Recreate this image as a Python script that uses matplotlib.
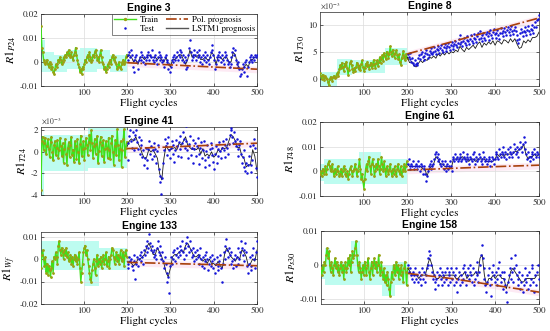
import matplotlib
matplotlib.use("Agg")
import matplotlib.pyplot as plt
import numpy as np
from matplotlib.ticker import FuncFormatter
from matplotlib.lines import Line2D

plt.rcParams["mathtext.fontset"] = "stix"
plt.rcParams["font.family"] = "STIXGeneral"

# all values in units of 1e-3
# ---------------- Engine 3 ----------------
e3_train = [15, 6, 4, 1, 0, -1, 0, 1, -1, -2, 0, -1, -3, -2, -4, -5, -3, -1, -2, -1,
            1, 0, 2, 1, -1, 0, 2, 1, 3, 2, 4, 3, 5, 3, 2, 4, 2, 1, 3, 4,
            6, 3, 1, -1, -2, -4, -3, -5, -2, -3, -1, 1, 0, 2, 3, 1, 4, 2, 0, 1,
            3, 2, 4, 5, 3, 1, 2, 0, 3, 5, 2, 0, -1, -3, -2, -4, -3, -1, -2, 0,
            1, -1, 2, 3, 1, 2, 0, -1, -3, -2, 0, -2, -3, -1, 0, 1, -1, 0, 2, 3]
e3_test = [1, 3, 4, 2, 5, 3, -2, 1, -4, 2, 3, 0, -3, 1, 2, 4, 1, 3, 0, 2,
           -1, 1, 3, 2, 4, 1, 3, 2, 5, 1, 2, 0, 3, 1, -1, 2, 4, 1, 3, 2,
           0, 1, -2, 2, 3, 1, 0, -3, -1, -4, -2, 1, 2, 0, 3, 1, 2, 4, 1, 3,
           5, 2, 4, 1, 3, 0, 2, -3, 1, -2, 3, 6, 9, 4, 1, 3, 2, 5, 3, 1,
           4, 2, 5, 3, 0, 2, -1, 3, 1, 4, 2, 0, 3, 1, -1, 2, 4, 5, 7, 3,
           1, -3, -1, 2, 3, 1, 4, 2, 0, 3, 1, -1, 2, 4, 3, 1, -1, 0, -2, -1,
           2, 4, 6, 3, 5, 1, -1, -2, 0, -3, -6, -5, -3, -1, -4, -2, 0, 1, -6, -2,
           0, 2, 1, 3, 0, 2, 1, 3, 2, 3]
e3_lstm = [2, 3, 2, 0, 1, -1, 2, 2, 1, 2, 3, 2, 2, 2, 1, 2, 1, 0, 2, -1,
           -2, 1, 1, 2, 3, 3, 1, -1, 1, 5, 2, 3, 2, 3, 1, 1, 2, 1, 1, 4,
           3, -1, 2, 2, 1, 2, 2, 0, 0, 4, 3, -1, -3, -3, -2, -1, -2, 1, 1, 2, 2]
e3_pol = [-0.3, -1.2, -2.1, -3.0]
e3_band_x = [0, 10, 30, 60, 90, 130, 160, 200]
e3_band_lo = [-4, -4, -4, -3, -4, -3, -4]
e3_band_hi = [9, 4, 3, 5, 6, 5, 3]

# ---------------- Engine 8 ----------------
e8_train = [1.0, 0.5, 0.0, 0.8, 0.3, -0.2, 0.5, 0.2, 0.0, -0.5,
            -1.2, 0.0, 0.4, 0.2, -0.3, 0.3, 0.6, 0.1, 0.4, 0.9,
            1.2, 0.6, 1.8, 2.5, 2.0, 3.0, 2.2, 1.5, 2.8, 2.4,
            3.2, 2.0, 0.8, 1.6, 2.9, 3.3, 2.5, 1.8, 1.2, 2.0,
            1.5, 2.2, 3.0, 2.6, 1.8, 2.4, 1.6, 2.8, 3.4, 2.2,
            1.4, 2.0, 2.8, 2.3, 3.2, 2.5, 1.8, 2.6, 3.0, 2.1,
            2.6, 3.5, 2.7, 2.0, 2.9, 3.4, 2.4, 3.1, 4.0, 3.0,
            3.6, 4.4, 3.3, 4.8, 4.2, 3.6, 5.0, 4.5, 3.8, 4.6,
            6.0, 5.0, 4.2, 5.4, 4.6, 3.9, 4.8, 5.3, 4.4, 3.6,
            4.5, 3.2, 2.6, 3.8, 4.4, 5.2, 4.0, 3.4, 4.6, 3.9]
e8_test = [4.5, 4.0, 3.6, 4.8, 3.2, 3.8, 2.9, 2.5, 3.4, 2.7,
           3.0, 2.6, 3.8, 4.4, 3.6, 4.6, 5.0, 4.0, 3.5, 4.2,
           4.8, 5.4, 4.6, 3.9, 4.4, 5.2, 4.8, 5.6, 4.5, 5.0,
           5.8, 5.2, 4.6, 5.5, 6.0, 5.3, 4.8, 5.6, 6.3, 5.4,
           5.0, 5.8, 6.4, 5.6, 5.2, 6.0, 6.6, 5.8, 5.3, 6.2,
           6.8, 6.0, 5.5, 6.4, 7.0, 6.2, 5.8, 6.6, 7.4, 6.5,
           8.0, 6.8, 6.0, 7.0, 7.5, 6.6, 6.2, 7.2, 7.8, 6.9,
           6.4, 7.4, 8.0, 7.0, 6.6, 7.6, 8.2, 7.3, 6.8, 7.8,
           8.4, 7.4, 8.8, 7.6, 7.0, 8.0, 8.5, 7.6, 7.1, 8.2,
           8.7, 7.8, 7.2, 8.4, 9.0, 8.0, 7.5, 8.6, 9.2, 8.2,
           7.6, 8.5, 9.0, 8.1, 7.4, 8.4, 9.3, 8.5, 7.8, 8.8,
           9.4, 8.6, 8.0, 9.0, 9.6, 8.7, 8.1, 9.2, 9.8, 8.8,
           8.2, 9.0, 9.6, 8.9, 8.0, 7.2, 6.6, 7.4, 8.4, 9.2,
           8.6, 7.8, 8.8, 9.5, 8.7, 8.0, 9.0, 9.7, 8.9, 8.2,
           9.2, 10.0, 9.0, 8.4, 9.6, 10.4, 9.5, 10.8, 11.0, 11.8]
e8_lstm = [4.0, 3.0, 3.2, 2.4, 2.2, 2.8, 3.4, 3.0, 3.6, 3.4, 4.0, 3.8, 4.2, 3.8, 4.6,
           4.2, 4.8, 4.4, 5.0, 4.6, 5.0, 4.8, 5.3, 5.0, 6.0, 5.4, 5.0, 5.8, 5.4, 5.8,
           6.2, 5.6, 6.4, 6.8, 5.8, 6.6, 6.2, 6.8, 6.4, 7.0, 6.2, 7.0, 6.8, 6.4, 7.2,
           7.0, 6.6, 7.4, 6.8, 7.4, 6.4, 5.6, 5.8, 7.0, 6.6, 7.2, 6.8, 7.6, 7.6, 7.8, 8.6]
e8_pol = [4.6, 6.8, 9.0, 11.2]
e8_band_x = [0, 40, 75, 150, 200]
e8_band_lo = [-1.3, 0.8, 1.0, 2.5]
e8_band_hi = [1.2, 3.6, 3.4, 5.6]

# ---------------- Engine 41 ----------------
e41_train = [-3.5, 1.0, 1.4, 0.2, 0.8, 1.3, -0.2, 0.5, 1.2, 0.3,
             -0.5, 0.9, 1.4, 0.0, -0.8, 0.6, 1.0, -0.3, 0.4, 1.1,
             -0.6, 0.2, 1.3, 0.5, -0.4, 0.8, -1.0, 0.3, 1.2, -0.2,
             -1.2, 0.4, 0.9, -0.5, 0.6, 1.4, -0.3, 0.2, -0.9, 1.0,
             0.5, -0.7, 1.2, 0.0, -1.0, 0.7, 1.5, -0.4, 0.3, 1.0,
             -0.8, 0.4, 1.3, 0.6, -0.3, 0.9, 1.6, 0.2, 2.0, 0.8,
             -0.6, 0.5, 1.2, -0.2, 0.7, 1.5, -1.0, 0.1, 0.9, 1.4,
             -0.4, 0.6, 1.1, -0.9, 0.3, 1.0, 0.4, -0.6, 1.3, 0.2,
             -0.7, 0.8, 1.5, 0.0, -1.2, 0.5, 1.1, -0.3, 2.1, 0.6,
             -0.8, 0.3, 1.0, -1.4, 0.2, 1.2, 2.1, -0.5, 0.4, 0.9]
e41_test = [0.8, -0.8, 1.5, 2.0, 1.0, 0.4, 1.8, 1.2, 0.2, 1.6,
            2.0, 0.9, 0.3, 1.4, -0.2, 0.6, 1.1, -0.5, 0.2, -1.2,
            -0.6, 0.4, -1.5, -0.8, 0.3, 1.0, -0.2, 0.5, -0.7, 0.2,
            0.8, -0.4, 0.3, -1.0, 0.1, 0.6, -1.6, -2.2, -2.8, -3.9,
            -2.4, -1.0, 0.2, 1.2, 0.5, -0.3, 0.8, 1.4, 0.2, -0.6,
            0.4, 1.0, -0.2, 0.6, -0.9, 0.2, 1.1, 0.5, -0.4, 0.9,
            1.5, 0.3, -0.5, 0.8, 1.8, 1.2, 0.4, 2.4, 1.0, 0.2,
            -0.6, 0.7, 1.5, -0.3, 0.4, 1.1, -1.0, 0.3, 0.8, -0.4,
            0.5, 1.3, -0.2, -1.1, 0.4, 0.9, -0.6, 0.2, 1.0, -0.8,
            -1.4, 0.1, 0.6, -0.5, -1.2, 0.3, 0.8, -0.3, 0.4, -0.9,
            -1.6, -0.2, 0.5, -1.0, -0.4, 0.3, 0.9, 0.1, -0.6, 0.4,
            1.0, 0.2, -0.5, 0.6, 1.2, 0.4, -0.2, 0.7, 1.6, 2.0,
            2.2, 1.4, 0.8, 1.8, 1.0, 0.5, 1.2, 0.3, -0.4, 0.6,
            1.0, -0.2, -1.0, -0.5, 0.2, -1.4, -1.8, -1.0, -2.0, -1.2,
            -0.4, 0.5, -1.2, -1.9, -0.8, 0.6, 1.2, 0.4, -1.5, -2.3]
e41_lstm = [0.5, 1.0, 1.2, 1.0, 1.4, 0.8, 0.4, -0.2, -0.6, -0.5, 0.2, 0.0, 0.2, -0.2, -0.6,
            -2.0, -2.6, -0.6, 0.6, 0.2, 0.2, 0.3, 0.4, 0.2, 0.8, 0.6, 1.0, 1.4, 0.6, 0.4,
            0.2, 0.3, 0.2, 0.4, -0.2, 0.3, -0.4, -0.2, -0.4, 0.0, -0.5, -0.3, 0.2, 0.0, 0.4,
            0.3, 0.4, 1.0, 1.6, 1.4, 1.0, 0.4, 0.4, -0.4, -0.6, -1.4, -1.2, -1.2, 0.2, -0.4, -1.8]
e41_pol = [0.3, 0.45, 0.62, 0.8]
e41_band_x = [0, 8, 110, 200]
e41_band_lo = [-4.0, -1.8, -1.5]
e41_band_hi = [1.5, 1.6, 2.2]

# ---------------- Engine 61 ----------------
e61_train = [-1, 0, -2, 1, -1, 0, 2, -1, 1, 3, 4, 2, 0, 1, 3, 0, -2, 1, -1, 0,
             2, 0, -2, -1, 1, -2, 0, 2, 1, -1, -2, 0, -3, -1, 1, 2, 0, -2, 0, 1,
             3, 1, -2, 0, 2, 5, 1, -3, -1, -4, -7, -3, 1, 3, 0, 4, 6, 2, -1, 3,
             5, 2, -2, 0, 3, 1, 5, 2, -1, 1, 6, 3, 0, 4, 1, -2, 2, 0, -1, 1,
             3, 0, -2, 1, -1, 2, 0, -2, 1, 3, 0, -1, 2, -2, 0, 1, 3, 0, 2, 4]
e61_test = [3, 5, 2, 1, 3, 2, 4, 1, 2, 3, 1, 2, 4, 2, 0, 3, 2, -1, 1, 2,
            -1, -4, -2, 0, 2, 3, 1, 4, 2, 3, 5, 7, 8, 6, 4, 7, 5, 3, 2, 4,
            3, 1, 4, 2, 0, 3, 1, 2, 4, 2, 0, 5, 6, 4, 7, 5, 6, 4, 5, 7,
            6, 4, 5, 8, 6, 5, 4, 6, 7, 5, 3, 6, 5, 4, 7, 8, 5, 3, 6, 4,
            5, 7, 6, 4, 3, 5, 8, 6, 4, 5, 3, 4, 6, 5, 2, 4, 6, 5, 3, 5,
            7, 8, 6, 5, 9, 7, 6, 8, 10, 7, 6, 8, 5, 7, 9, 6, 8, 10, 7, 6,
            8, 11, 9, 7, 10, 8, 6, 9, 12, 10, 8, 11, 14, 12, 9, 7, 5, 8, 6, 4,
            6, 8, 7, 5, 9, 7, 6, 8, 7, 6]
e61_lstm = [3, 2, 2, 2, 2, 2, 2, 1, 1, -2, 1, 2, 3, 6, 5, 3, 3, 2, 2, 2,
            1, 5, 5, 5, 5, 6, 5, 5, 4, 5, 5, 4, 5, 5, 5, 5, 4, 4, 4, 4,
            5, 7, 6, 7, 6, 7, 7, 7, 7, 8, 8, 9, 9, 11, 7, 5, 6, 6, 7, 6, 7]
e61_pol = [0.5, 1.2, 1.9, 2.5]
e61_band_x = [0, 10, 90, 140, 200]
e61_band_lo = [-4, -5, -5, -5]
e61_band_hi = [3, 5, 8, 5]

# ---------------- Engine 133 ----------------
e133_train = [-4, 2, 4, 0, -3, 1, -6, -2, -7, -3, -5, -8, -4, -1, -6, 1, 0, 3, 1, -2,
              6, 8, 4, 2, 5, 3, 0, 4, 2, 5, 1, 3, -1, 0, 2, -2, 1, -3, 0, 2,
              -1, 1, -2, 0, 3, -4, -10, -6, -2, 3, 5, 6, 2, 4, 0, -3, -6, -9, -10, -5,
              -2, 0, -4, -7, -1, 2, -3, 0, -2, 1, -4, -1, 2, -2, 0, 3, -3, -1, 1, -4,
              0, 2, 5, 4, 1, -2, 0, 3, -1, 2, -2, 1, 4, -1, 0, 3, -3, 2, 4, 1]
e133_test = [-2, -4, 1, -1, 0, -3, -5, -1, 2, -9, -2, 1, -3, 0, 2, -1, 3, 1, -2, 4,
             2, 6, 3, 8, 5, 11, 7, 4, 6, 3, 1, 4, 2, 0, 5, 8, 3, 6, 2, 0,
             3, -1, -4, 1, -2, -6, -10, -8, -15, -3, 1, -2, 3, 0, 4, -1, 2, 5, 1, 3,
             6, 2, 4, 8, 3, 0, 5, 2, 7, 10, 6, 3, 8, 4, 1, 5, 2, -1, 3, 0,
             4, 1, -2, 2, 5, 0, -3, 1, -4, 2, -1, 3, 0, -5, -2, 1, -3, 2, -1, -4,
             0, -6, -2, 1, -3, -5, -1, 2, -4, -10, -2, 3, 0, 6, 9, 4, 1, 5, 2, -2,
             3, -1, -4, 0, 2, -3, 1, 5, -2, 0, 3, 8, 5, 2, -1, 4, 7, 3, -3, -6,
             -2, 1, -5, -3, 2, 5, 0, -4, 3, 8]
e133_lstm = [-1, -1, -2, -3, -2, 0, 0, 1, 2, 5, 7, 5, 2, 2, 5, 3, 1, -2, -6, -8,
             -4, 1, 2, 2, 3, 4, 3, 6, 7, 5, 3, 1, 1, 2, 0, -1, 0, -2, 0, -2,
             -2, -3, -1, -3, -4, 2, 5, 3, 1, 0, -1, 1, 0, 4, 3, 1, -3, -2, 0, -1, 4]
e133_pol = [-1.5, -2.0, -2.5, -3.0]
e133_band_x = [0, 35, 100, 135, 160, 200]
e133_band_lo = [-5, -5, -12, -5, -5]
e133_band_hi = [8, 8, 8, 5, 5]

# ---------------- Engine 158 ----------------
e158_train = [-1, -3, 0, -2, 1, 0, 3, 5, 2, 4, 0, -2, 1, -1, -3, 0, 2, -1, 1, -2,
              0, -3, -1, 1, -2, 0, -4, -1, 1, -2, -1, 2, 0, 3, -2, 1, 4, 2, 3, 5,
              7, 3, 0, -2, 1, -1, -4, -2, 0, -3, 1, -1, -3, 0, 2, -2, -4, -1, 1, -3,
              0, 2, -1, 1, -2, 0, 3, -1, -3, 1, -2, -4, -1, -5, -3, -6, -2, -4, -7, -9,
              -5, -2, -4, 0, -1, -3, 1, -2, 0, -4, -1, -3, 0, -2, -5, -1, 1, -2, -6, -1]
e158_test = [0, -2, -1, -3, -4, -2, -5, -3, -1, -4, -3, -5, -2, -4, -6, -3, -1, -4, -2, -5,
             -3, -1, 0, 2, 4, 3, 0, -2, -4, -3, -5, -7, -4, -2, -6, -3, -1, -4, -2, -6,
             -3, -5, -2, -4, -1, -6, -3, -2, -5, -1, -4, -2, -6, -3, -1, -5, -8, -4, -2, -6,
             -3, -5, -1, -4, 0, -2, -6, -3, -1, -4, -2, 0, -3, -5, -1, -6, -4, -2, 1, -3,
             -5, -2, 0, 3, 6, 2, -1, -4, -6, -8, -5, -3, -1, -6, -9, -4, -2, 0, -3, -5,
             -2, -6, -4, -1, 1, -3, -5, -2, -7, -4, -2, -6, -8, -11, -5, -3, -1, -4, 2, -2,
             -5, -1, 3, 0, -3, -6, -4, -2, -7, -5, -3, -8, -6, -4, -1, -5, -3, -7, -2, -6,
             -4, -1, 0, -5, -8, -3, -6, -2, 0, -4]
e158_lstm = [-1, -2, -3, -3, -3, -4, -3, -3, -3, 0, 2, 0, -3, -4, -4, -3, -4, -3, -3, -3,
             -3, -3, -4, -4, -3, -3, -2, -4, -3, -3, -3, -2, -3, 2, 3, -3, -6, -4, -4, -3,
             -4, -3, -3, -4, -4, -7, -5, -2, -1, -2, -3, -4, -5, -5, -4, -4, -4, -4, -4, -3, -3]
e158_pol = [-2.5, -4.0, -6.0, -8.0]
e158_band_x = [0, 10, 22, 70, 90, 140, 170, 200]
e158_band_lo = [-4, -6, -6, -6, -6, -9, -6]
e158_band_hi = [0, 5, 1, 7, 1, 0, 1]

pol_x = [200, 300, 400, 500]

panels = [
    # title, ylabel, train, test, lstm, pol, band x/lo/hi, ylim, yticks, scaled, box(px: l, r, t, b)
    ("Engine 3", r"$R1_{P24}$", e3_train, e3_test, e3_lstm, e3_pol,
     e3_band_x, e3_band_lo, e3_band_hi, (-10, 20), [-10, 0, 10, 20], False, (41, 257, 14, 86)),
    ("Engine 8", r"$R1_{T30}$", e8_train, e8_test, e8_lstm, e8_pol,
     e8_band_x, e8_band_lo, e8_band_hi, (-1.3, 12.3), [0, 5, 10], True, (320, 539, 12, 86)),
    ("Engine 41", r"$R1_{T24}$", e41_train, e41_test, e41_lstm, e41_pol,
     e41_band_x, e41_band_lo, e41_band_hi, (-4, 2.3), [-4, -2, 0, 2], True, (41, 257, 127, 195)),
    ("Engine 61", r"$R1_{T48}$", e61_train, e61_test, e61_lstm, e61_pol,
     e61_band_x, e61_band_lo, e61_band_hi, (-10, 20), [-10, 0, 10, 20], False, (320, 539, 122, 196)),
    ("Engine 133", r"$R1_{Wf}$", e133_train, e133_test, e133_lstm, e133_pol,
     e133_band_x, e133_band_lo, e133_band_hi, (-20, 12), [-20, -10, 0, 10], False, (41, 257, 232, 304)),
    ("Engine 158", r"$R1_{Ps30}$", e158_train, e158_test, e158_lstm, e158_pol,
     e158_band_x, e158_band_lo, e158_band_hi, (-11.5, 10), [-10, 0, 10], False, (321, 539, 231, 304)),
]

W, H = 550, 331
fig = plt.figure(figsize=(W / 100, H / 100), dpi=100)

green = "#3ee01a"
green_mk = "#9aa014"
blue = "#1414d8"
pol_c = "#a8400c"

for (title, ylab, train, test, lstm, pol, bx, blo, bhi, ylim, yticks, scaled, box) in panels:
    l, r, t, b = box
    ax = fig.add_axes([l / W, 1 - b / H, (r - l) / W, (b - t) / H])

    ax.fill_between(bx, blo + blo[-1:], bhi + bhi[-1:], step="post",
                    color="#bdfcf0", lw=0, zorder=0)
    pol_arr = np.array(pol)
    span = ylim[1] - ylim[0]
    ax.fill_between(pol_x, pol_arr - span * 0.05, pol_arr + span * 0.04,
                    color="#fdeaf4", lw=0, zorder=0)

    x_train = np.linspace(1, 199, len(train))
    x_test = np.linspace(201, 499, len(test))
    x_lstm = np.linspace(200, 500, len(lstm))

    ax.plot(x_train, train, "-", color=green, lw=1.0, marker="o", ms=1.0,
            mfc=green_mk, mec=green_mk, zorder=3, label="Train")
    ax.plot(x_lstm, lstm, "-", color="#1a1a1a", lw=0.6, zorder=3, label="LSTM1 prognosis")
    ax.plot(x_test, test, "o", color=blue, ms=1.8, mew=0, zorder=4, label="Test")
    ax.plot(pol_x, pol, "-.", color=pol_c, lw=1.2, zorder=5, label="Pol. prognosis")

    ax.set_xlim(1, 500)
    ax.set_ylim(*ylim)
    ax.set_xticks([100, 200, 300, 400, 500])
    ax.set_yticks(yticks)
    if scaled:
        ax.yaxis.set_major_formatter(FuncFormatter(lambda v, _: "%g" % v))
        ax.text(0.0, 1.02, r"$\times10^{-3}$", transform=ax.transAxes,
                fontsize=5.5, color="#333333", ha="left", va="bottom")
    else:
        ax.yaxis.set_major_formatter(
            FuncFormatter(lambda v, _: "0" if v == 0 else "%g" % (v * 1e-3)))

    ax.grid(True, color="#dcdcdc", lw=0.5)
    ax.set_axisbelow(True)
    ax.tick_params(direction="in", length=2, width=0.5, labelsize=6.5,
                   colors="#262626", pad=2, top=True, right=True)
    for sp in ax.spines.values():
        sp.set_linewidth(0.5)
        sp.set_color("#262626")

    ax.set_title(title, fontsize=7.5, fontweight="bold", family="Liberation Sans", pad=2)
    ax.set_xlabel("Flight cycles", fontsize=8, labelpad=1)
    ax.set_ylabel(ylab, fontsize=8.5, labelpad=1)

    if title == "Engine 3":
        handles = [
            Line2D([], [], color=green, lw=1.0, marker="o", ms=1.4, mfc=green_mk, mec=green_mk),
            Line2D([], [], color=blue, marker="o", ms=1.8, mew=0, ls="none"),
            Line2D([], [], color=pol_c, lw=1.2, ls="-."),
            Line2D([], [], color="#555555", lw=1.0),
        ]
        labels = ["Train", "Test", "Pol. prognosis", "LSTM1 prognosis"]
        leg = ax.legend(handles, labels, ncol=2, loc="upper right", fontsize=6.2,
                        frameon=True, fancybox=False, borderpad=0.25, labelspacing=0.1,
                        handlelength=2.6, handletextpad=0.4, columnspacing=0.8,
                        borderaxespad=0.0)
        leg.get_frame().set_edgecolor("#262626")
        leg.get_frame().set_linewidth(0.5)
        leg.set_zorder(10)

fig.savefig("out.png", dpi=100)
